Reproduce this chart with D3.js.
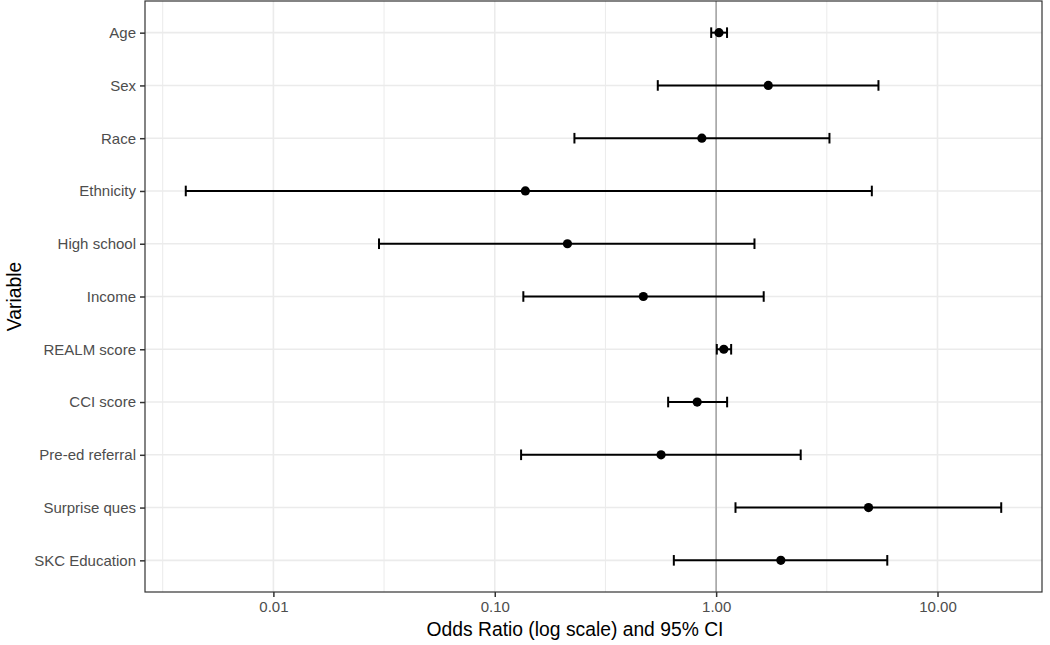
<!DOCTYPE html>
<html>
<head>
<meta charset="utf-8">
<script src="https://cdn.jsdelivr.net/npm/d3@7"></script>
<style>
  html, body { margin: 0; padding: 0; background: #fff; }
  svg { display: block; font-family: "Liberation Sans", Arial, sans-serif; }
</style>
</head>
<body>
<svg id="chart" width="1050" height="645"></svg>
<script>
const variables = ["Age", "Sex", "Race", "Ethnicity", "High school", "Income",
  "REALM score", "CCI score", "Pre-ed referral", "Surprise ques", "SKC Education"];
const oddsRatio = [1.03, 1.72, 0.862, 0.1375, 0.213, 0.469, 1.083, 0.821, 0.564, 4.88, 1.96];
const ciLower   = [0.95, 0.545, 0.229, 0.00402, 0.030, 0.1346, 1.007, 0.607, 0.1315, 1.223, 0.644];
const ciUpper   = [1.12, 5.41, 3.25, 5.05, 1.49, 1.64, 1.169, 1.121, 2.41, 19.4, 5.93];
const xTicks = [0.01, 0.1, 1, 10];
const xTickLabels = ["0.01", "0.10", "1.00", "10.00"];
const refLine = 1;

const rows = variables.map((v, i) => ({ v, or: oddsRatio[i], lo: ciLower[i], hi: ciUpper[i] }));

const svg = d3.select("#chart");
const panel = { left: 145, right: 1042, top: 1, bottom: 592 };

// log domain with 5% expansion like ggplot
const lmin = Math.log10(d3.min(ciLower)), lmax = Math.log10(d3.max(ciUpper));
const pad = (lmax - lmin) * 0.05;
const x = d3.scaleLog().domain([Math.pow(10, lmin - pad), Math.pow(10, lmax + pad)])
  .range([panel.left, panel.right]);

const y = d3.scalePoint().domain(variables).range([panel.top, panel.bottom]).padding(0.6);

// minor gridlines (midpoints in log space)
const minor = [];
for (let i = 0; i < xTicks.length + 1; i++) {
  const m = Math.pow(10, Math.log10(0.01) + (i - 0.5));
  if (m > x.domain()[0] && m < x.domain()[1]) minor.push(m);
}
svg.append("g").selectAll("line").data(minor).join("line")
  .attr("x1", d => x(d)).attr("x2", d => x(d))
  .attr("y1", panel.top).attr("y2", panel.bottom)
  .attr("stroke", "#ebebeb").attr("stroke-width", 1);

// major gridlines
svg.append("g").selectAll("line").data(xTicks).join("line")
  .attr("x1", d => x(d)).attr("x2", d => x(d))
  .attr("y1", panel.top).attr("y2", panel.bottom)
  .attr("stroke", "#ebebeb").attr("stroke-width", 1.6);
svg.append("g").selectAll("line").data(variables).join("line")
  .attr("x1", panel.left).attr("x2", panel.right)
  .attr("y1", d => y(d)).attr("y2", d => y(d))
  .attr("stroke", "#ebebeb").attr("stroke-width", 1.6);

// reference line
svg.append("line")
  .attr("x1", x(refLine)).attr("x2", x(refLine))
  .attr("y1", panel.top).attr("y2", panel.bottom)
  .attr("stroke", "#a6a6a6").attr("stroke-width", 1.6);

// error bars
const capH = 5.3;
const eb = svg.append("g").attr("stroke", "#000").attr("stroke-width", 2).attr("fill", "none");
rows.forEach(r => {
  eb.append("line").attr("x1", x(r.lo)).attr("x2", x(r.hi)).attr("y1", y(r.v)).attr("y2", y(r.v));
  eb.append("line").attr("x1", x(r.lo)).attr("x2", x(r.lo)).attr("y1", y(r.v) - capH).attr("y2", y(r.v) + capH);
  eb.append("line").attr("x1", x(r.hi)).attr("x2", x(r.hi)).attr("y1", y(r.v) - capH).attr("y2", y(r.v) + capH);
});

// points
svg.append("g").selectAll("circle").data(rows).join("circle")
  .attr("cx", d => x(d.or)).attr("cy", d => y(d.v)).attr("r", 4.6).attr("fill", "#000");

// panel border
svg.append("rect")
  .attr("x", panel.left).attr("y", panel.top)
  .attr("width", panel.right - panel.left).attr("height", panel.bottom - panel.top)
  .attr("fill", "none").attr("stroke", "#333").attr("stroke-width", 1.2);

// axes
const xAxis = d3.axisBottom(x).tickValues(xTicks).tickFormat((d, i) => xTickLabels[i])
  .tickSizeInner(5).tickSizeOuter(0).tickPadding(4);
const gx = svg.append("g").attr("transform", `translate(0,${panel.bottom})`).call(xAxis);
gx.select(".domain").remove();
gx.selectAll(".tick line").attr("stroke", "#333").attr("stroke-width", 1.5);
gx.selectAll(".tick text").attr("fill", "#4d4d4d").style("font-size", "15px")
  .style("font-family", "'Liberation Sans', Arial, sans-serif");

const yAxis = d3.axisLeft(y).tickSizeInner(5).tickSizeOuter(0).tickPadding(4);
const gy = svg.append("g").attr("transform", `translate(${panel.left},0)`).call(yAxis);
gy.select(".domain").remove();
gy.selectAll(".tick line").attr("stroke", "#333").attr("stroke-width", 1.5);
gy.selectAll(".tick text").attr("fill", "#4d4d4d").style("font-size", "15px")
  .style("font-family", "'Liberation Sans', Arial, sans-serif");

// axis titles
svg.append("text")
  .attr("x", 575).attr("y", 636)
  .attr("text-anchor", "middle").attr("fill", "#000")
  .style("font-size", "19.3px")
  .text("Odds Ratio (log scale) and 95% CI");
svg.append("text")
  .attr("transform", `translate(21,${(panel.top + panel.bottom) / 2}) rotate(-90)`)
  .attr("text-anchor", "middle").attr("fill", "#000")
  .style("font-size", "19.3px")
  .text("Variable");
</script>
</body>
</html>
